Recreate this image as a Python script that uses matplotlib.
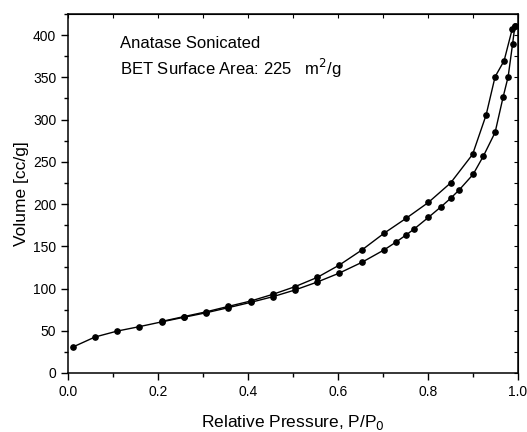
import numpy as np
import matplotlib.pyplot as plt
from matplotlib.ticker import MultipleLocator

plt.rcParams['font.family'] = ['Liberation Sans', 'DejaVu Sans']

# adsorption branch (lower)
p_ads = [0.012, 0.06, 0.11, 0.158, 0.208, 0.258, 0.307, 0.356, 0.406, 0.455,
         0.504, 0.554, 0.603, 0.653, 0.702, 0.729, 0.751, 0.769, 0.801, 0.829,
         0.85, 0.869, 0.9, 0.923, 0.949, 0.967, 0.978, 0.988, 0.993]
v_ads = [31, 42.6, 49.7, 54.8, 60.5, 66.0, 71.3, 77.3, 83.6, 90.3,
         98.2, 107.7, 118.3, 131.0, 145.6, 155.0, 163.3, 170.4, 184.3, 196.8,
         206.7, 216.6, 235.0, 256.8, 284.8, 327.0, 350.7, 390.0, 411.0]

# desorption branch (upper)
p_des = [0.993, 0.987, 0.969, 0.949, 0.929, 0.899, 0.85, 0.801, 0.751, 0.702,
         0.653, 0.603, 0.554, 0.504, 0.455, 0.406, 0.356, 0.307, 0.258, 0.208]
v_des = [411.0, 407.0, 369.6, 350.7, 305.3, 258.8, 224.9, 202.0, 183.0, 165.3,
         145.6, 127.8, 113.2, 102.1, 93.1, 85.2, 78.8, 72.4, 66.8, 61.0]

fig = plt.figure(figsize=(5.27, 4.32), dpi=100)
ax = fig.add_axes([0.129, 0.1366, 0.854, 0.831])

ax.plot(p_ads, v_ads, '-o', color='black', lw=1.0, ms=3.8)
ax.plot(p_des, v_des, '-o', color='black', lw=1.0, ms=3.8)

ax.set_xlim(0, 1.0)
ax.set_ylim(0, 425)
ax.xaxis.set_major_locator(MultipleLocator(0.2))
ax.xaxis.set_minor_locator(MultipleLocator(0.1))
ax.yaxis.set_major_locator(MultipleLocator(50))
ax.yaxis.set_minor_locator(MultipleLocator(25))
ax.xaxis.set_major_formatter(plt.FuncFormatter(lambda v, _: f'{v:.1f}'))
ax.tick_params(which='major', direction='out', length=5, width=1, labelsize=10)
ax.tick_params(which='minor', direction='out', length=3, width=1)
for s in ax.spines.values():
    s.set_linewidth(1.1)

top = ax.secondary_xaxis('top')
top.xaxis.set_major_locator(MultipleLocator(0.1))
top.tick_params(direction='in', length=3, labeltop=False)
right = ax.secondary_yaxis('right')
right.yaxis.set_major_locator(MultipleLocator(25))
right.tick_params(direction='in', length=3, labelright=False)

ax.text(0.116, 390, 'Anatase Sonicated', fontsize=12, va='center')
ax.text(0.116, 361, 'BET Surface Area: 225   m$^2$/g', fontsize=12, va='center')

ax.set_xlabel('Relative Pressure, P/P$_0$', fontsize=12.5, labelpad=10)
ax.set_ylabel('Volume [cc/g]', fontsize=12.5, labelpad=3)

fig.savefig('out.png', dpi=100)
